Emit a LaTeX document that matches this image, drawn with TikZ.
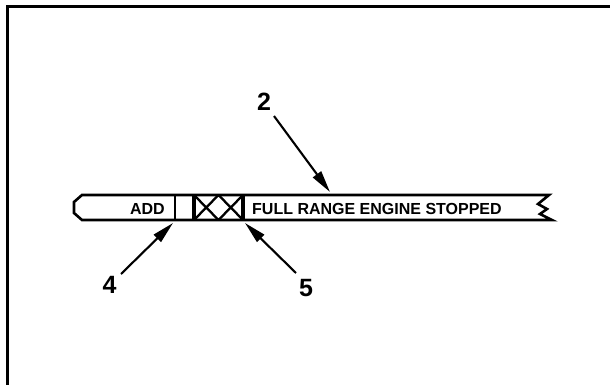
\documentclass[tikz,border=0pt]{standalone}
\usepackage{fontspec}
\setmainfont{Liberation Sans}
\usetikzlibrary{arrows.meta}
\tikzset{
  barline/.style={line width=2.6pt, line join=miter},
  callout/.style={line width=2.1pt, -{Triangle[length=22pt,width=10pt]}},
  numlabel/.style={font=\bfseries\fontsize{25}{25}\selectfont, inner sep=0pt},
  bartext/.style={font=\bfseries\fontsize{16}{16}\selectfont, inner sep=0pt, text=black},
}
\begin{document}
\begin{tikzpicture}[x=1pt,y=-1pt]
\useasboundingbox (0,0) rectangle (610,385);
% frame
\draw[line width=2.4pt] (7.5,385) -- (7.5,6.5) -- (610,6.5);
% crosshatch
\draw[line width=2.3pt] (194,195) -- (218.5,220) (218.5,195) -- (194,220)
  (218.5,195) -- (243,220) (243,195) -- (218.5,220);
\draw[line width=3.2pt] (194,195) -- (194,220) (243,195) -- (243,220);
% dipstick bar
\draw[barline] (549,195) -- (82,195) -- (74,202) -- (74,213) -- (82,220) -- (552,220)
  -- (540,214) -- (547,209) -- (538,204) -- cycle;
\draw[line width=2.2pt] (175,195) -- (175,220);
% texts
\node[bartext, anchor=base east] (add) at (165,214.5) {ADD};
\node[bartext, anchor=base west] (full) at (252,214.5) {FULL RANGE ENGINE STOPPED};
% callout labels
\node[numlabel] (l2) at (264,102) {2};
\node[numlabel] (l4) at (109.5,285) {4};
\node[numlabel] (l5) at (306,288.5) {5};
\coordinate (s2) at (274,116);
\coordinate (t2) at (330,192);
\coordinate (s4) at (121,274);
\coordinate (t4) at (173,223);
\coordinate (s5) at (296,273);
\coordinate (t5) at (245,223);
\draw[callout] (s2) -- (t2);
\draw[callout] (s4) -- (t4);
\draw[callout] (s5) -- (t5);
\end{tikzpicture}
\end{document}
